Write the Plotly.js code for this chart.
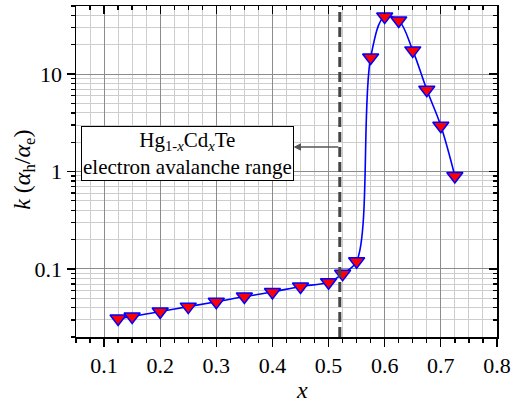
<!DOCTYPE html>
<html>
<head>
<meta charset="utf-8">
<script src="https://cdn.plot.ly/plotly-3.0.1.min.js"></script>
<style>html,body{margin:0;padding:0;background:#fff;}#chart{width:511px;height:403px;}</style>
</head>
<body>
<div id="chart"></div>
<script>
// Cd fraction x
const xValues = [0.125, 0.15, 0.2, 0.25, 0.3, 0.35, 0.4, 0.45, 0.5, 0.525, 0.55, 0.575, 0.6, 0.625, 0.65, 0.675, 0.7, 0.725];
// ionization coefficient ratio k = alpha_h / alpha_e
const kValues = [0.031, 0.0325, 0.0365, 0.041, 0.046, 0.052, 0.058, 0.066, 0.073, 0.089, 0.12, 14.8, 39, 35.5, 17.5, 6.9, 2.95, 0.9];
const yTickVals = [0.1, 1, 10];
const yTickText = ["0.1", "1", "10"];
const boundaryX = 0.52;
const labelLines = ["Hg<sub>1-<i>x</i></sub>Cd<sub><i>x</i></sub>Te", "electron avalanche range"];

const FONT = "Liberation Serif";
const yRange = [Math.log10(0.02), Math.log10(50)];
const xRange = [0.05, 0.8001];

const traces = [
  {
    x: xValues, y: kValues, type: "scatter", mode: "lines+markers",
    line: {color: "#0000ff", width: 1.6, shape: "spline", smoothing: 1},
    marker: {symbol: "triangle-down", size: 14, color: "#ff0000", line: {color: "#0000ff", width: 1.5}},
    showlegend: false, hoverinfo: "skip"
  },
  {
    x: [0.5], y: [1], xaxis: "x2", yaxis: "y2", type: "scatter", mode: "markers",
    marker: {opacity: 0}, showlegend: false, hoverinfo: "skip"
  }
];

const layout = {
  width: 511, height: 403,
  margin: {l: 76, r: 14, t: 6, b: 66},
  paper_bgcolor: "#fff", plot_bgcolor: "#fff",
  font: {family: FONT, size: 22, color: "#000"},
  showlegend: false,
  xaxis: {
    range: xRange, dtick: 0.1, tick0: 0, tickformat: ".1f",
    showgrid: true, gridcolor: "#8c8c8c", gridwidth: 1,
    zeroline: false, showline: true, linecolor: "#000", linewidth: 1.5, mirror: true,
    ticks: "outside", ticklen: 8, tickwidth: 1.3, tickcolor: "#000",
    tickfont: {family: FONT, size: 22, color: "#000"},
    minor: {dtick: 0.025, tick0: 0, showgrid: true, gridcolor: "#cdcdcd", gridwidth: 1, ticks: "outside", ticklen: 4, tickcolor: "#000"}
  },
  yaxis: {
    type: "log", range: yRange, tickvals: yTickVals, ticktext: yTickText,
    showgrid: true, gridcolor: "#8c8c8c", gridwidth: 1,
    zeroline: false, showline: true, linecolor: "#000", linewidth: 1.5, mirror: true,
    ticks: "outside", ticklen: 8, tickwidth: 1.3, tickcolor: "#000",
    tickfont: {family: FONT, size: 22, color: "#000"},
    minor: {dtick: "D1", showgrid: true, gridcolor: "#cdcdcd", gridwidth: 1, ticks: "outside", ticklen: 4, tickcolor: "#000"}
  },
  xaxis2: {
    overlaying: "x", side: "top", range: xRange, dtick: 0.1, tick0: 0,
    showgrid: false, zeroline: false, showline: false, showticklabels: false,
    ticks: "inside", ticklen: 8, tickwidth: 1.3, tickcolor: "#000",
    minor: {dtick: 0.025, tick0: 0, showgrid: false, ticks: "inside", ticklen: 4, tickcolor: "#000"}
  },
  yaxis2: {
    overlaying: "y", side: "right", type: "log", range: yRange, tickvals: yTickVals,
    showgrid: false, zeroline: false, showline: false, showticklabels: false,
    ticks: "inside", ticklen: 8, tickwidth: 1.3, tickcolor: "#000",
    minor: {dtick: "D1", showgrid: false, ticks: "inside", ticklen: 4, tickcolor: "#000"}
  },
  shapes: [
    {type: "line", xref: "x", yref: "paper", x0: boundaryX, x1: boundaryX, y0: 0, y1: 1,
     line: {color: "#444", width: 3, dash: "10px,5px"}, layer: "above"}
  ],
  annotations: [
    {xref: "paper", yref: "paper", x: 0.2637, y: 0.554, xanchor: "center", yanchor: "middle",
     text: labelLines.join("<br>"), showarrow: false, align: "center",
     font: {family: FONT, size: 21, color: "#000"},
     bgcolor: "#fff", bordercolor: "#000", borderwidth: 1, borderpad: 1},
    {xref: "x", yref: "y", x: 0.4375, y: 0.251, axref: "x", ayref: "y", ax: boundaryX, ay: 0.251,
     text: "", showarrow: true, arrowhead: 2, arrowsize: 1, arrowwidth: 1.5, arrowcolor: "#555", standoff: 0, startstandoff: 0},
    {xref: "paper", yref: "paper", x: 0.537, y: -0.16, xanchor: "center", yanchor: "middle",
     text: "<i>x</i>", showarrow: false, font: {family: FONT, size: 24, color: "#000"}},
    {xref: "paper", yref: "paper", x: -0.1235, y: 0.505, xanchor: "center", yanchor: "middle",
     text: "<i>k</i> (<i>α</i><sub>h</sub>/<i>α</i><sub>e</sub>)", textangle: -90, showarrow: false,
     font: {family: FONT, size: 24, color: "#000"}}
  ]
};

Plotly.newPlot("chart", traces, layout, {staticPlot: true, displayModeBar: false});
</script>
</body>
</html>
